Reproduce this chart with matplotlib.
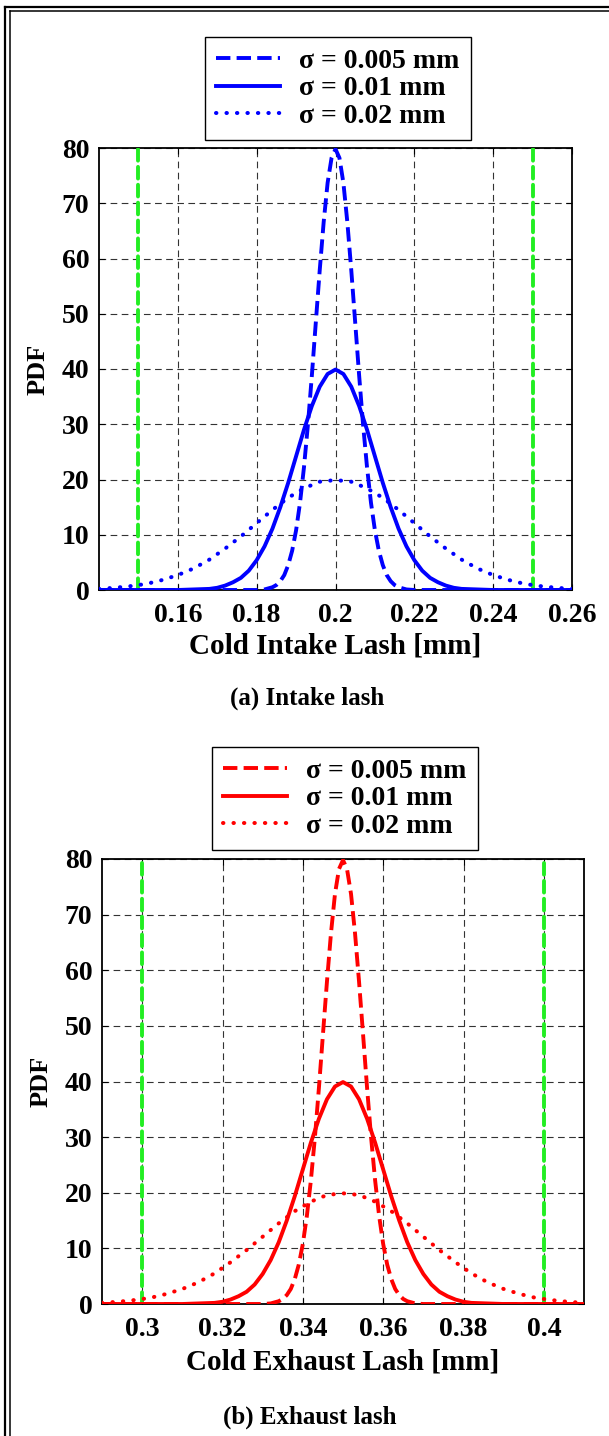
import numpy as np
import matplotlib.pyplot as plt
from matplotlib.lines import Line2D

plt.rcParams['font.family'] = ['Liberation Serif', 'DejaVu Serif']
plt.rcParams['font.weight'] = 'bold'

# Half profiles of the curves (offset from the centre in mm, PDF)
off_005 = [0.0, 0.001, 0.002, 0.003, 0.004, 0.005, 0.006, 0.007, 0.008, 0.009,
           0.010, 0.011, 0.012, 0.013, 0.014, 0.015, 0.016, 0.018, 0.020, 0.060]
pdf_005 = [79.8, 78.2, 73.7, 66.6, 57.9, 48.4, 38.8, 29.9, 22.2, 15.8,
           10.8, 7.1, 4.5, 2.7, 1.6, 0.9, 0.5, 0.1, 0.0, 0.0]

off_01 = [0.0, 0.002, 0.004, 0.006, 0.008, 0.010, 0.012, 0.014, 0.016, 0.018,
          0.020, 0.022, 0.024, 0.026, 0.028, 0.030, 0.032, 0.036, 0.040, 0.060]
pdf_01 = [39.9, 39.1, 36.8, 33.3, 29.0, 24.2, 19.4, 15.0, 11.1, 7.9,
          5.4, 3.5, 2.2, 1.4, 0.8, 0.4, 0.2, 0.1, 0.0, 0.0]

off_02 = [0.0, 0.004, 0.008, 0.012, 0.016, 0.020, 0.024, 0.028, 0.032, 0.036,
          0.040, 0.044, 0.048, 0.052, 0.056, 0.060]
pdf_02 = [19.9, 19.6, 18.4, 16.7, 14.5, 12.1, 9.7, 7.5, 5.5, 3.9,
          2.7, 1.8, 1.1, 0.7, 0.4, 0.2]

sigma_labels = ['\u03c3 = 0.005 mm', '\u03c3 = 0.01 mm', '\u03c3 = 0.02 mm']

intake_center = 0.20
intake_limits = [0.15, 0.25]
intake_xlim = [0.14, 0.26]
intake_ticks = [0.16, 0.18, 0.20, 0.22, 0.24, 0.26]
intake_ticklabels = ['0.16', '0.18', '0.2', '0.22', '0.24', '0.26']

exhaust_center = 0.35
exhaust_limits = [0.30, 0.40]
exhaust_xlim = [0.29, 0.41]
exhaust_ticks = [0.30, 0.32, 0.34, 0.36, 0.38, 0.40]
exhaust_ticklabels = ['0.3', '0.32', '0.34', '0.36', '0.38', '0.4']

y_ticks = [0, 10, 20, 30, 40, 50, 60, 70, 80]


def mirrored(center, off, pdf):
    off = np.asarray(off)
    pdf = np.asarray(pdf)
    x = np.concatenate([center - off[::-1], center + off[1:]])
    y = np.concatenate([pdf[::-1], pdf[1:]])
    return x, y


def draw_panel(ax, center, color, limits, xlim, ticks, ticklabels, xlabel,
               legend_anchor, xlab_y, ylab_x):
    for lim in limits:
        ax.axvline(lim, color='#22ee22', lw=2.8, linestyle=(0, (3.0, 1.6)),
                   dash_capstyle='round', zorder=3)
    styles = [dict(linestyle='--', lw=2.8),
              dict(linestyle='-', lw=2.8),
              dict(linestyle=(0, (0.1, 2.5)), lw=2.9, dash_capstyle='round')]
    handles = []
    for (off, pdf), st, lab in zip([(off_005, pdf_005), (off_01, pdf_01), (off_02, pdf_02)],
                                   styles, sigma_labels):
        x, y = mirrored(center, off, pdf)
        h, = ax.plot(x, y, color=color, label=lab, zorder=4, **st)
        handles.append(h)

    ax.set_xlim(xlim)
    ax.set_ylim(0, 80)
    ax.set_xticks(ticks)
    ax.set_xticklabels(ticklabels)
    ax.set_yticks(y_ticks)
    ax.tick_params(direction='in', length=4, width=0.8, top=True, right=True,
                   labelsize=20)
    ax.tick_params(axis='x', pad=9)
    ax.tick_params(axis='y', pad=7)
    for lab in ax.get_xticklabels() + ax.get_yticklabels():
        lab.set_fontweight('bold')
    ax.grid(True, color='#333333', linestyle=(0, (6, 4)), lw=0.8)
    ax.set_axisbelow(True)
    for sp in ax.spines.values():
        sp.set_linewidth(1.3)
    ax.set_xlabel(xlabel, fontsize=21, fontweight='bold', va='top')
    ax.xaxis.set_label_coords(0.5, xlab_y)
    ax.set_ylabel('PDF', fontsize=19, fontweight='bold')
    ax.yaxis.set_label_coords(ylab_x, 0.5)

    fig.legend(handles=handles, loc='upper center',
               bbox_to_anchor=legend_anchor, frameon=True,
               fancybox=False, edgecolor='black', framealpha=1,
               handlelength=2.3, handletextpad=0.7, labelspacing=0.08,
               borderpad=0.4, borderaxespad=0,
               prop={'weight': 'bold', 'size': 20})


fig = plt.figure(figsize=(6.09, 14.36), dpi=100)

ax1 = fig.add_axes([99 / 609, 1 - 590 / 1436, 473 / 609, 442 / 1436])
draw_panel(ax1, intake_center, '#0000ff', intake_limits, intake_xlim,
           intake_ticks, intake_ticklabels, 'Cold Intake Lash [mm]',
           (338 / 609, 1 - 37 / 1436), -0.097, -0.105)

ax2 = fig.add_axes([102 / 609, 1 - 1304 / 1436, 482 / 609, 445 / 1436])
draw_panel(ax2, exhaust_center, '#ff0000', exhaust_limits, exhaust_xlim,
           exhaust_ticks, exhaust_ticklabels, 'Cold Exhaust Lash [mm]',
           (345 / 609, 1 - 747 / 1436), -0.10, -0.102)

fig.text(307 / 609, 1 - 698 / 1436, '(a) Intake lash', ha='center', va='center',
         fontsize=18, fontweight='bold')
fig.text(310 / 609, 1 - 1417 / 1436, '(b) Exhaust lash', ha='center', va='center',
         fontsize=18, fontweight='bold')

# double frame on the left and top edges
W, H = 609, 1436
fig.add_artist(Line2D([5 / W, 5 / W], [0, 1 - 7 / H], color='black', lw=1.6,
                      transform=fig.transFigure))
fig.add_artist(Line2D([9.5 / W, 9.5 / W], [0, 1 - 11 / H], color='black', lw=1.1,
                      transform=fig.transFigure))
fig.add_artist(Line2D([5 / W, 1], [1 - 7 / H, 1 - 7 / H], color='black', lw=1.6,
                      transform=fig.transFigure))
fig.add_artist(Line2D([9.5 / W, 1], [1 - 11 / H, 1 - 11 / H], color='black', lw=1.1,
                      transform=fig.transFigure))

fig.savefig('out.png', dpi=100)
